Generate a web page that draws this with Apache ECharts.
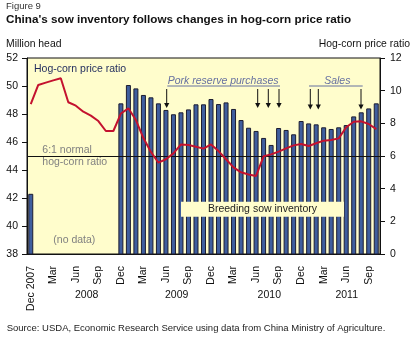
<!DOCTYPE html>
<html>
<head>
<meta charset="utf-8">
<script src="https://cdn.jsdelivr.net/npm/echarts@6/dist/echarts.min.js"></script>
<style>
  html, body { margin: 0; padding: 0; background: #fff; }
  #chart { width: 415px; height: 339px; }
</style>
</head>
<body>
<div id="chart"></div>
<script>
// Monthly categories, Dec 2007 through Oct 2011
const months = [
  'Dec 2007',
  'Jan 2008','Feb 2008','Mar 2008','Apr 2008','May 2008','Jun 2008','Jul 2008','Aug 2008','Sep 2008','Oct 2008','Nov 2008','Dec 2008',
  'Jan 2009','Feb 2009','Mar 2009','Apr 2009','May 2009','Jun 2009','Jul 2009','Aug 2009','Sep 2009','Oct 2009','Nov 2009','Dec 2009',
  'Jan 2010','Feb 2010','Mar 2010','Apr 2010','May 2010','Jun 2010','Jul 2010','Aug 2010','Sep 2010','Oct 2010','Nov 2010','Dec 2010',
  'Jan 2011','Feb 2011','Mar 2011','Apr 2011','May 2011','Jun 2011','Jul 2011','Aug 2011','Sep 2011','Oct 2011'
];

// Breeding sow inventory, million head (no data Jan-Nov 2008)
const sowInventory = [
  42.3,
  null, null, null, null, null, null, null, null, null, null, null, 48.76,
  50.07, 49.83, 49.36, 49.19, 48.76, 48.29, 47.98, 48.12, 48.33, 48.69, 48.69, 49.07,
  48.71, 48.83, 48.36, 47.57, 47.02, 46.79, 46.29, 45.79, 47.0, 46.86, 46.55, 47.5,
  47.33, 47.26, 47.05, 46.93, 47.05, 47.21, 47.83, 48.12, 48.4, 48.76
];

// Hog-corn price ratio
const hogCornRatio = [
  9.18,
  10.35, 10.49, 10.63, 10.76, 9.29, 9.08, 8.71, 8.47, 8.14, 7.53, 7.53, 8.6,
  8.92, 8.2, 7.1, 6.25, 5.59, 5.8, 6.16, 6.71, 6.67, 6.57, 6.45, 6.71,
  6.3, 5.8, 5.3, 5.0, 4.87, 4.78, 5.98, 6.1, 6.27, 6.47, 6.65, 6.73,
  6.61, 6.78, 6.94, 6.98, 7.08, 7.76, 8.1, 8.12, 7.96, 7.65
];

const leftTicks = { min: 38, max: 52, interval: 2 };
const rightTicks = { min: 0, max: 12, interval: 2 };
const normalRatio = 6;

const years = [
  { label: '2008', x: 86.7 },
  { label: '2009', x: 176.7 },
  { label: '2010', x: 269.3 },
  { label: '2011', x: 346.7 }
];

// Arrow annotations: reserve purchases and sales
const purchaseArrows = [166.7, 257.7, 268.3, 279];
const salesArrows = [310.3, 318.3, 361];

const FONT = '"Liberation Sans", Arial, Helvetica, sans-serif';
const chart = echarts.init(document.getElementById('chart'), null, { renderer: 'canvas' });

function arrow(x, y1, y2, color) {
  return [
    { type: 'line', z: 100, shape: { x1: x, y1: y1, x2: x, y2: y2 - 4 }, style: { stroke: color, lineWidth: 1 } },
    { type: 'polygon', z: 100, shape: { points: [[x - 2.6, y2 - 5], [x + 2.6, y2 - 5], [x, y2]] }, style: { fill: color } }
  ];
}

const graphics = [
  { type: 'text', left: 6, top: 1, z: 100, style: { text: 'Figure 9', font: '9.5px ' + FONT, fill: '#333' } },
  { type: 'text', left: 6, top: 14, z: 100, style: { text: "China's sow inventory follows changes in hog-corn price ratio", font: 'bold 11.7px ' + FONT, fill: '#111' } },
  { type: 'text', left: 6, top: 39, z: 100, style: { text: 'Million head', font: '10.4px ' + FONT, fill: '#111' } },
  { type: 'text', right: 5, top: 39, z: 100, style: { text: 'Hog-corn price ratio', font: '10.4px ' + FONT, fill: '#111' } },
  { type: 'text', x: 34, y: 64, z: 100, style: { text: 'Hog-corn price ratio', font: '10.5px ' + FONT, fill: '#1f2a5c' } },
  { type: 'text', x: 42.3, y: 145, z: 100, style: { text: '6:1 normal', font: '10.5px ' + FONT, fill: '#808080' } },
  { type: 'text', x: 42.3, y: 156.5, z: 100, style: { text: 'hog-corn ratio', font: '10.5px ' + FONT, fill: '#808080' } },
  { type: 'text', x: 53.3, y: 235, z: 100, style: { text: '(no data)', font: '10.5px ' + FONT, fill: '#808080' } },
  { type: 'rect', z: 100, shape: { x: 181, y: 201.7, width: 163, height: 15 }, style: { fill: '#fffdcc' } },
  { type: 'text', x: 262.5, y: 209.3, z: 101, style: { text: 'Breeding sow inventory', font: '10.5px ' + FONT, fill: '#222', align: 'center', verticalAlign: 'middle' } },
  { type: 'text', x: 167.7, y: 76, z: 100, style: { text: 'Pork reserve purchases', font: 'italic 10.5px ' + FONT, fill: '#6670a0' } },
  { type: 'line', z: 100, shape: { x1: 167.3, y1: 86, x2: 280, y2: 86 }, style: { stroke: '#6670a0', lineWidth: 1 } },
  { type: 'text', x: 337.3, y: 76, z: 100, style: { text: 'Sales', font: 'italic 10.5px ' + FONT, fill: '#6670a0', align: 'center' } },
  { type: 'line', z: 100, shape: { x1: 309, y1: 86, x2: 362.7, y2: 86 }, style: { stroke: '#6670a0', lineWidth: 1 } },
  { type: 'text', x: 6.7, y: 323, z: 100, style: { text: 'Source: USDA, Economic Research Service using data from China Ministry of Agriculture.', font: '9.5px ' + FONT, fill: '#222' } }
];
purchaseArrows.forEach(x => graphics.push(...arrow(x, 89, 108, '#111')));
salesArrows.forEach(x => graphics.push(...arrow(x, 89, 109.5, '#111')));
years.forEach(y => graphics.push({ type: 'text', x: y.x, y: 290, z: 100, style: { text: y.label, font: '10.5px ' + FONT, fill: '#111', align: 'center' } }));

chart.setOption({
  animation: false,
  backgroundColor: '#fff',
  textStyle: { fontFamily: FONT },
  grid: {
    left: 27, right: 35, top: 58, bottom: 85,
    show: true, backgroundColor: '#fffdcc', borderColor: '#111', borderWidth: 1
  },
  xAxis: {
    type: 'category',
    data: months,
    boundaryGap: true,
    axisLine: { lineStyle: { color: '#111', width: 1 } },
    axisTick: { interval: 2, alignWithLabel: true, length: 6, lineStyle: { color: '#111' } },
    axisLabel: {
      interval: 2, rotate: 90, margin: 12, color: '#111', fontSize: 10.5, fontFamily: FONT,
      formatter: (v, i) => i === 0 ? v : v.split(' ')[0]
    },
    splitLine: { show: false }
  },
  yAxis: [
    {
      type: 'value', position: 'left',
      min: leftTicks.min, max: leftTicks.max, interval: leftTicks.interval,
      axisLine: { show: true, lineStyle: { color: '#111' } },
      axisTick: { show: true, length: 5, lineStyle: { color: '#111' } },
      axisLabel: { margin: 9, color: '#111', fontSize: 10.5, fontFamily: FONT },
      splitLine: { show: false }
    },
    {
      type: 'value', position: 'right',
      min: rightTicks.min, max: rightTicks.max, interval: rightTicks.interval,
      axisLine: { show: true, lineStyle: { color: '#111' } },
      axisTick: { show: true, length: 5, lineStyle: { color: '#111' } },
      axisLabel: { margin: 10, color: '#111', fontSize: 10.5, fontFamily: FONT },
      splitLine: { show: false }
    }
  ],
  series: [
    {
      name: 'Breeding sow inventory',
      type: 'bar',
      yAxisIndex: 0,
      data: sowInventory,
      barWidth: 5,
      itemStyle: { color: '#3f5e9e', borderColor: '#1c1c30', borderWidth: 1 }
    },
    {
      name: 'Hog-corn price ratio',
      type: 'line',
      yAxisIndex: 1,
      data: hogCornRatio,
      symbol: 'none',
      smooth: false,
      lineStyle: { color: '#c4122f', width: 2 },
      z: 5,
      markLine: {
        silent: true,
        symbol: 'none',
        label: { show: false },
        lineStyle: { color: '#111', width: 1, type: 'solid' },
        data: [{ yAxis: normalRatio }]
      }
    }
  ],
  graphic: graphics
});
</script>
</body>
</html>
